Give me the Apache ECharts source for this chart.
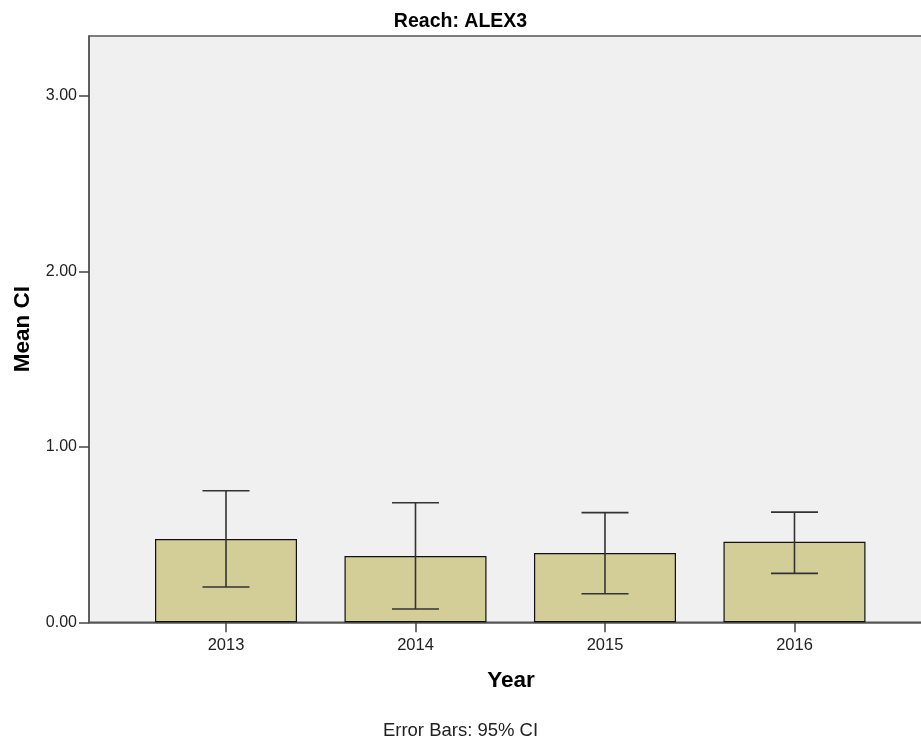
<!DOCTYPE html>
<html>
<head>
<meta charset="utf-8">
<script src="https://cdn.jsdelivr.net/npm/echarts@6/dist/echarts.min.js"></script>
<style>
html,body{margin:0;padding:0;background:#fff;}
#chart{width:921px;height:742px;}
</style>
</head>
<body>
<div id="chart"></div>
<script>
const years = ['2013', '2014', '2015', '2016'];
const means = [0.475, 0.378, 0.395, 0.459];
const ciLow = [0.201, 0.076, 0.163, 0.279];
const ciHigh = [0.750, 0.681, 0.625, 0.628];
const yTicks = [0, 1, 2, 3];

const FONT = '"Liberation Sans", Arial, sans-serif';
const chart = echarts.init(document.getElementById('chart'), null, {renderer: 'canvas'});

const barData = means.map((m, i) => [i, m]);
const errData = ciLow.map((lo, i) => [i, lo, ciHigh[i]]);
const xIdx = years.map((y, i) => i);

chart.setOption({
  animation: false,
  backgroundColor: '#ffffff',
  title: [
    {text: 'Reach: ALEX3', left: 'center', top: 7,
     textStyle: {fontFamily: FONT, fontSize: 19.5, fontWeight: 'bold', color: '#000'}},
    {text: 'Error Bars: 95% CI', left: 'center', top: 716,
     textStyle: {fontFamily: FONT, fontSize: 18.5, fontWeight: 'normal', color: '#222'}}
  ],
  grid: {left: 89, top: 36, width: 844, height: 586.3, outerBoundsMode: 'none', containLabel: false,
         show: true, backgroundColor: '#f0f0f0', borderColor: '#555', borderWidth: 1.5},
  xAxis: {
    type: 'value', min: -0.723, max: 3.731,
    name: 'Year', nameLocation: 'middle', nameGap: 47,
    nameTextStyle: {fontFamily: FONT, fontSize: 22.5, fontWeight: 'bold', color: '#000'},
    axisLine: {show: true, onZero: false, lineStyle: {color: '#555', width: 1.5}},
    axisTick: {show: true, customValues: xIdx, length: 10, lineStyle: {color: '#444', width: 1.5}},
    axisLabel: {show: true, customValues: xIdx, margin: 15,
      formatter: v => years[Math.round(v)] || '',
      fontFamily: FONT, fontSize: 16.5, color: '#222'},
    splitLine: {show: false}
  },
  yAxis: {
    type: 'value', min: 0, max: 3.341,
    name: 'Mean CI', nameLocation: 'middle', nameGap: 55, nameRotate: 90,
    nameTextStyle: {fontFamily: FONT, fontSize: 22.5, fontWeight: 'bold', color: '#000'},
    axisLine: {show: true, onZero: false, lineStyle: {color: '#555', width: 1.5}},
    axisTick: {show: true, customValues: yTicks, length: 10, lineStyle: {color: '#444', width: 1.5}},
    axisLabel: {show: true, customValues: yTicks, margin: 12, padding: [4, 0, 0, 0],
      formatter: v => Number(v).toFixed(2),
      fontFamily: FONT, fontSize: 16, color: '#222'},
    splitLine: {show: false}
  },
  series: [
    {
      type: 'bar', data: barData, barWidth: 142,
      itemStyle: {color: '#d3ce97', borderColor: '#111', borderWidth: 1.2},
      z: 2
    },
    {
      type: 'custom', data: errData, z: 3,
      encode: {x: 0, y: [1, 2]},
      renderItem: function (params, api) {
        const x = api.value(0);
        const lo = api.coord([x, api.value(1)]);
        const hi = api.coord([x, api.value(2)]);
        const hw = 23.5;
        const st = {stroke: '#333', lineWidth: 1.6};
        return {type: 'group', children: [
          {type: 'line', shape: {x1: lo[0], y1: lo[1], x2: hi[0], y2: hi[1]}, style: st},
          {type: 'line', shape: {x1: hi[0] - hw, y1: hi[1], x2: hi[0] + hw, y2: hi[1]}, style: st},
          {type: 'line', shape: {x1: lo[0] - hw, y1: lo[1], x2: lo[0] + hw, y2: lo[1]}, style: st}
        ]};
      }
    }
  ]
});
</script>
</body>
</html>
